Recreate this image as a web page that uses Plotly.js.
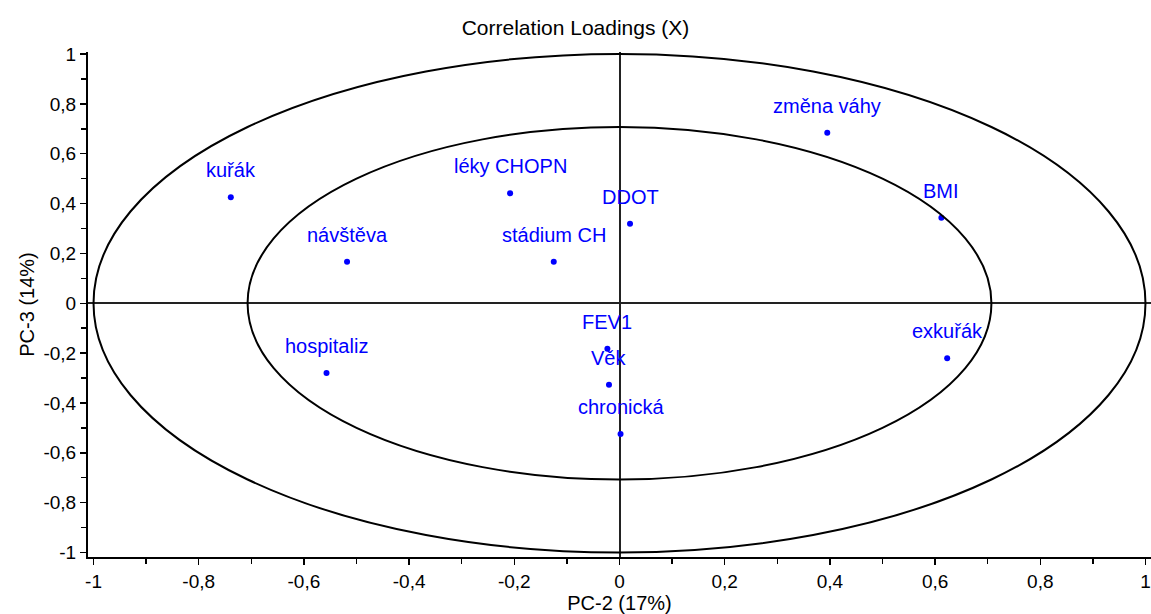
<!DOCTYPE html>
<html>
<head>
<meta charset="utf-8">
<script src="https://cdn.plot.ly/plotly-3.0.1.min.js"></script>
<style>html,body{margin:0;padding:0;background:#fff;}#chart{width:1151px;height:614px;}</style>
</head>
<body>
<div id="chart"></div>
<script>
// Variable names
const labels = ["kuřák", "návštěva", "léky CHOPN", "stádium CH", "DDOT", "změna váhy", "BMI", "exkuřák", "hospitaliz", "FEV1", "Věk", "chronická"];
// PC-2 loadings (x)
const pc2 = [-0.739, -0.518, -0.208, -0.125, 0.020, 0.395, 0.612, 0.623, -0.557, -0.023, -0.020, 0.002];
// PC-3 loadings (y)
const pc3 = [0.425, 0.167, 0.441, 0.167, 0.319, 0.684, 0.343, -0.221, -0.280, -0.183, -0.327, -0.525];
// Correlation circle radii (100% and 50% explained variance)
const radii = [1, Math.sqrt(0.5)];
// Tick values and labels
const tickVals = [-1, -0.8, -0.6, -0.4, -0.2, 0, 0.2, 0.4, 0.6, 0.8, 1];
const tickText = ["-1", "-0,8", "-0,6", "-0,4", "-0,2", "0", "0,2", "0,4", "0,6", "0,8", "1"];

const FONT = "Liberation Sans, Arial, sans-serif";
const BLUE = "#0000ff";

const trace = {
  type: "scatter",
  mode: "markers",
  x: pc2,
  y: pc3,
  marker: {color: BLUE, size: 6},
  hoverinfo: "skip",
  showlegend: false
};

const annotations = labels.map((t, i) => ({
  x: pc2[i], y: pc3[i], xref: "x", yref: "y",
  text: t, showarrow: false, yshift: 27,
  xanchor: "center", yanchor: "middle",
  font: {family: FONT, size: 20, color: BLUE}
}));

const shapes = radii.map(r => ({
  type: "circle", xref: "x", yref: "y",
  x0: -r, x1: r, y0: -r, y1: r,
  line: {color: "#000", width: 2}, layer: "above"
}));

const axisCommon = {
  tickmode: "array",
  tickvals: tickVals,
  ticktext: tickText,
  ticks: "outside",
  ticklen: 6,
  tickwidth: 1.5,
  tickcolor: "#000",
  minor: {tickmode: "linear", tick0: 0, dtick: 0.1, ticks: "outside", ticklen: 5, tickwidth: 1.5, tickcolor: "#000"},
  showline: true,
  linecolor: "#000",
  linewidth: 2,
  showgrid: false,
  zeroline: true,
  zerolinecolor: "#222",
  zerolinewidth: 2,
  tickfont: {family: FONT, size: 19, color: "#000"},
  fixedrange: true
};

const layout = {
  width: 1151, height: 614,
  margin: {l: 88, r: 0, t: 52, b: 57},
  paper_bgcolor: "#fff",
  plot_bgcolor: "#fff",
  title: {text: "Correlation Loadings (X)", x: 0.5, xref: "container", xanchor: "center", y: 0.955, yanchor: "middle",
          font: {family: FONT, size: 21, color: "#000"}},
  xaxis: Object.assign({}, axisCommon, {
    range: [-1.0105, 1.0105],
    title: {text: "PC-2 (17%)", standoff: 1, font: {family: FONT, size: 20, color: "#000"}}
  }),
  yaxis: Object.assign({}, axisCommon, {
    range: [-1.018, 1.008],
    title: {text: "PC-3 (14%)", standoff: 3, font: {family: FONT, size: 20, color: "#000"}}
  }),
  shapes: shapes,
  annotations: annotations,
  showlegend: false,
  hovermode: false
};

Plotly.newPlot("chart", [trace], layout, {displayModeBar: false, staticPlot: true});
</script>
</body>
</html>
